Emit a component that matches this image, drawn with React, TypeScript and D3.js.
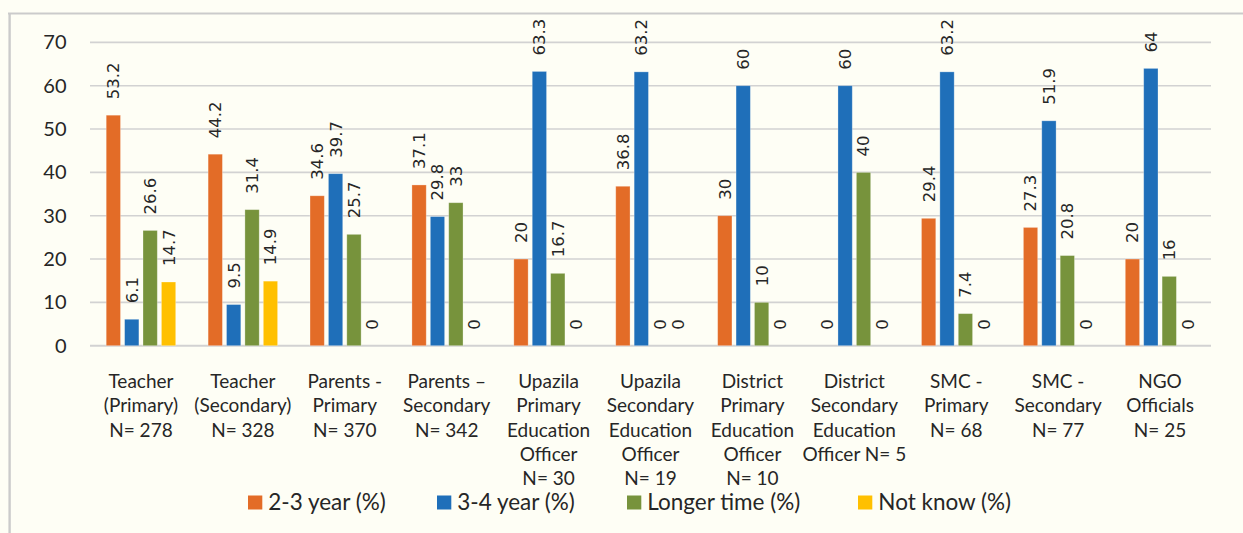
import React from "react";
import * as d3 from "d3";

const categories: string[][] = [
  ["Teacher", "(Primary)", "N= 278"],
  ["Teacher", "(Secondary)", "N= 328"],
  ["Parents -", "Primary", "N= 370"],
  ["Parents –", "Secondary", "N= 342"],
  ["Upazila", "Primary", "Education", "Officer", "N= 30"],
  ["Upazila", "Secondary", "Education", "Officer", "N= 19"],
  ["District", "Primary", "Education", "Officer", "N= 10"],
  ["District", "Secondary", "Education", "Officer N= 5"],
  ["SMC -", "Primary", "N= 68"],
  ["SMC -", "Secondary", "N= 77"],
  ["NGO", "Officials", "N= 25"],
];

const seriesNames = ["2-3 year (%)", "3-4 year (%)", "Longer time (%)", "Not know (%)"];
const seriesColors = ["#E36C27", "#1F6FB9", "#77933C", "#FFC000"];

const twoToThree = [53.2, 44.2, 34.6, 37.1, 20, 36.8, 30, 0, 29.4, 27.3, 20];
const threeToFour = [6.1, 9.5, 39.7, 29.8, 63.3, 63.2, 60, 60, 63.2, 51.9, 64];
const longerTime = [26.6, 31.4, 25.7, 33, 16.7, 0, 10, 40, 7.4, 20.8, 16];
const notKnow = [14.7, 14.9, 0, 0, 0, 0, 0, 0, 0, 0, 0];

const yTicks = [0, 10, 20, 30, 40, 50, 60, 70];

const W = 1243;
const H = 533;
const plotLeft = 90;
const plotRight = 1211;
const plotTop = 42.4;
const plotBottom = 345.7;

const legendX = [248, 437, 627, 858];

export default function App() {
  React.useEffect(() => {
    document.body.style.margin = "0";
  }, []);
  const series = [twoToThree, threeToFour, longerTime, notKnow];
  const keys = categories.map((c) => c.join(" "));
  const x0 = d3.scaleBand<string>().domain(keys).range([plotLeft, plotRight]).padding(0);
  const bw0 = x0.bandwidth();
  const x1 = d3
    .scaleBand<number>()
    .domain(d3.range(series.length))
    .range([bw0 * 0.159, bw0 * 0.841])
    .paddingInner(0.223);
  const y = d3.scaleLinear().domain([0, 70]).range([plotBottom, plotTop]);
  const font = "Lato, 'Open Sans', sans-serif";
  const textColor = "#262626";

  return (
    <div style={{ position: "absolute", left: 0, top: 0 }}>
      <svg width={W} height={H} style={{ display: "block" }}>
        <rect x={0} y={0} width={W} height={H} fill="#FEFEF5" />
        <line x1={8} x2={W} y1={13.6} y2={13.6} stroke="#CBCBCB" strokeWidth={2} />
        <line x1={9.6} x2={9.6} y1={13} y2={H} stroke="#CBCBCB" strokeWidth={2.4} />
        {yTicks.map((t) => (
          <g key={t}>
            <line x1={plotLeft} x2={plotRight} y1={y(t)} y2={y(t)} stroke="#D2D2D2" strokeWidth={t === 0 ? 2 : 1.6} />
            <text x={66.5} y={y(t)} dy="0.35em" textAnchor="end" fontFamily={font} fontSize={20} fill={textColor}>
              {t}
            </text>
          </g>
        ))}
        {keys.map((k, ci) => (
          <g key={k} transform={`translate(${x0(k)},0)`}>
            {series.map((s, si) => {
              const v = s[ci];
              const bx = x1(si)!;
              const bwid = x1.bandwidth();
              return (
                <g key={si}>
                  {v > 0 && (
                    <rect x={bx} y={y(v)} width={bwid} height={y(0) - y(v)} fill={seriesColors[si]} stroke="#FFFFFF" strokeOpacity={0.35} strokeWidth={0.8} />
                  )}
                  <text
                    transform={`translate(${bx + bwid / 2},${y(v) - 16}) rotate(-90)`}
                    dy="0.36em"
                    textAnchor="start"
                    fontFamily="'DejaVu Sans', sans-serif"
                    fontSize={16.5}
                    fill={textColor}
                  >
                    {String(v)}
                  </text>
                </g>
              );
            })}
            {categories[ci].map((line, li) => (
              <text key={li} x={bw0 / 2} y={388 + li * 24.3} textAnchor="middle" fontFamily={font} fontSize={19} fill={textColor}>
                {line}
              </text>
            ))}
          </g>
        ))}
        {seriesNames.map((name, i) => (
          <g key={name} transform={`translate(${legendX[i]},0)`}>
            <rect x={0} y={495.5} width={14.3} height={14} fill={seriesColors[i]} />
            <text x={20.3} y={510} fontFamily={font} fontSize={22.5} fill={textColor}>
              {name}
            </text>
          </g>
        ))}
      </svg>
    </div>
  );
}
